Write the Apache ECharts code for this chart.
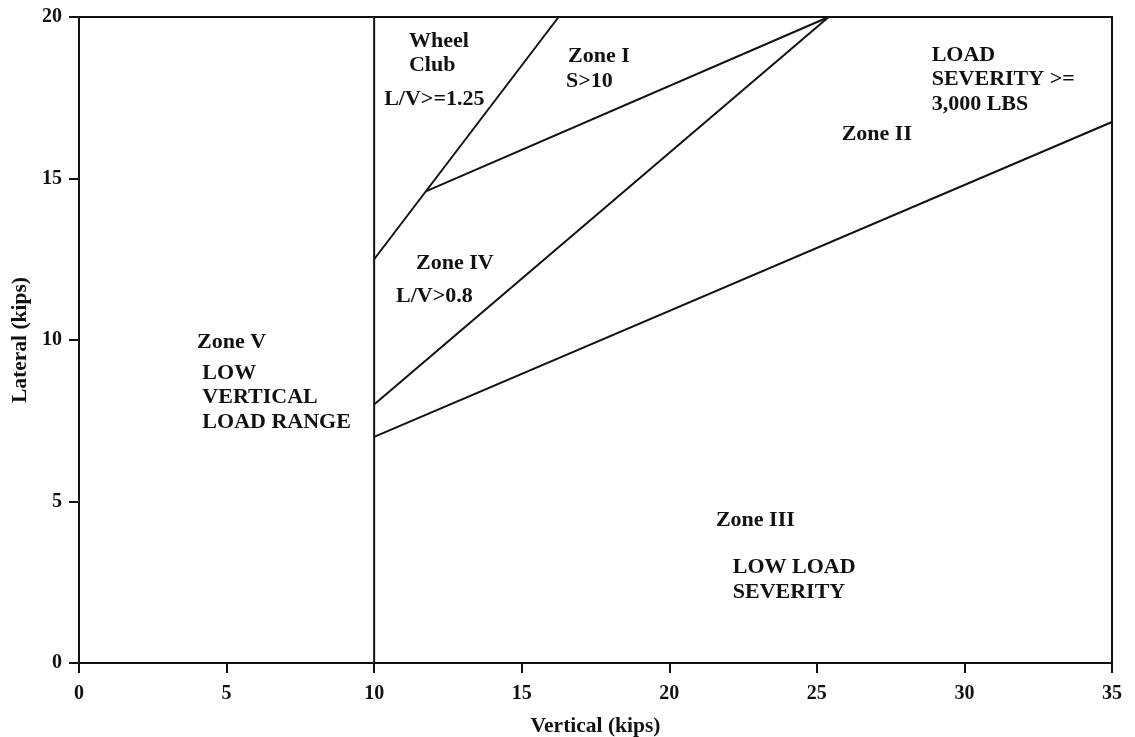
<!DOCTYPE html>
<html>
<head>
<meta charset="utf-8">
<script src="https://cdn.jsdelivr.net/npm/echarts@6/dist/echarts.min.js"></script>
<style>
  html, body { margin: 0; padding: 0; background: #fff; }
  #chart { width: 1135px; height: 737px; }
</style>
</head>
<body>
<div id="chart"></div>
<script>
// axis ticks
var xTicks = [0, 5, 10, 15, 20, 25, 30, 35];
var yTicks = [0, 5, 10, 15, 20];

// zone boundaries [vertical, lateral]
var verticalLine = [[10, 0], [10, 20]];
var wheelClimbLine = [[10, 12.5], [16.25, 20]];
var zoneOneLine = [[11.75, 14.6], [25.4, 20]];
var lvLine = [[10, 8], [25.4, 20]];
var severityLine = [[10, 7], [35, 16.75]];

// zone annotations [vertical, lateral, text] (top-left of text)
var zoneLabels = [
    [11.18, 19.63, 'Wheel\nClub'],
    [10.34, 17.83, 'L/V>=1.25'],
    [16.57, 19.16, 'Zone I'],
    [16.50, 18.39, 'S>10'],
    [28.89, 19.20, 'LOAD\nSEVERITY >=\n3,000 LBS'],
    [25.84, 16.75, 'Zone II'],
    [11.42, 12.76, 'Zone IV'],
    [10.74, 11.73, 'L/V>0.8'],
    [4.00, 10.31, 'Zone V'],
    [4.18, 9.35, 'LOW\nVERTICAL\nLOAD RANGE'],
    [21.58, 4.80, 'Zone III'],
    [22.15, 3.34, 'LOW LOAD\nSEVERITY']
];

var font = '"Liberation Serif", "Times New Roman", serif';
var chart = echarts.init(document.getElementById('chart'));

function boundary(data) {
    return {
        type: 'line',
        data: data,
        symbol: 'none',
        silent: true,
        lineStyle: { color: '#111', width: 2 }
    };
}

chart.setOption({
    animation: false,
    grid: {
        left: 79, right: 23, top: 17, bottom: 74,
        containLabel: false, outerBoundsMode: 'none',
        show: true, borderColor: '#111', borderWidth: 2
    },
    xAxis: {
        type: 'value',
        min: xTicks[0], max: xTicks[xTicks.length - 1], interval: 5,
        name: 'Vertical (kips)',
        nameLocation: 'middle', nameGap: 52,
        nameTextStyle: { fontFamily: font, fontWeight: 'bold', fontSize: 21.5, color: '#111' },
        axisLine: { lineStyle: { color: '#111', width: 2 } },
        axisTick: { show: true, length: 10, lineStyle: { color: '#111', width: 2 } },
        axisLabel: { margin: 21, fontFamily: font, fontWeight: 'bold', fontSize: 20, color: '#111' },
        splitLine: { show: false }
    },
    yAxis: {
        type: 'value',
        min: yTicks[0], max: yTicks[yTicks.length - 1], interval: 5,
        name: 'Lateral (kips)',
        nameLocation: 'middle', nameGap: 47,
        nameTextStyle: { fontFamily: font, fontWeight: 'bold', fontSize: 21.5, color: '#111' },
        axisLine: { lineStyle: { color: '#111', width: 2 } },
        axisTick: { show: true, length: 10, lineStyle: { color: '#111', width: 2 } },
        axisLabel: { margin: 17, fontFamily: font, fontWeight: 'bold', fontSize: 20, color: '#111' },
        splitLine: { show: false }
    },
    series: [
        boundary(verticalLine),
        boundary(wheelClimbLine),
        boundary(zoneOneLine),
        boundary(lvLine),
        boundary(severityLine),
        {
            type: 'scatter',
            data: zoneLabels,
            symbolSize: 0,
            silent: true,
            itemStyle: { opacity: 1 },
            label: {
                show: true,
                position: [0, 0],
                align: 'left',
                verticalAlign: 'top',
                formatter: function (p) { return p.data[2]; },
                fontFamily: font,
                fontWeight: 'bold',
                fontSize: 22,
                lineHeight: 24.5,
                color: '#111'
            }
        }
    ]
});
</script>
</body>
</html>
